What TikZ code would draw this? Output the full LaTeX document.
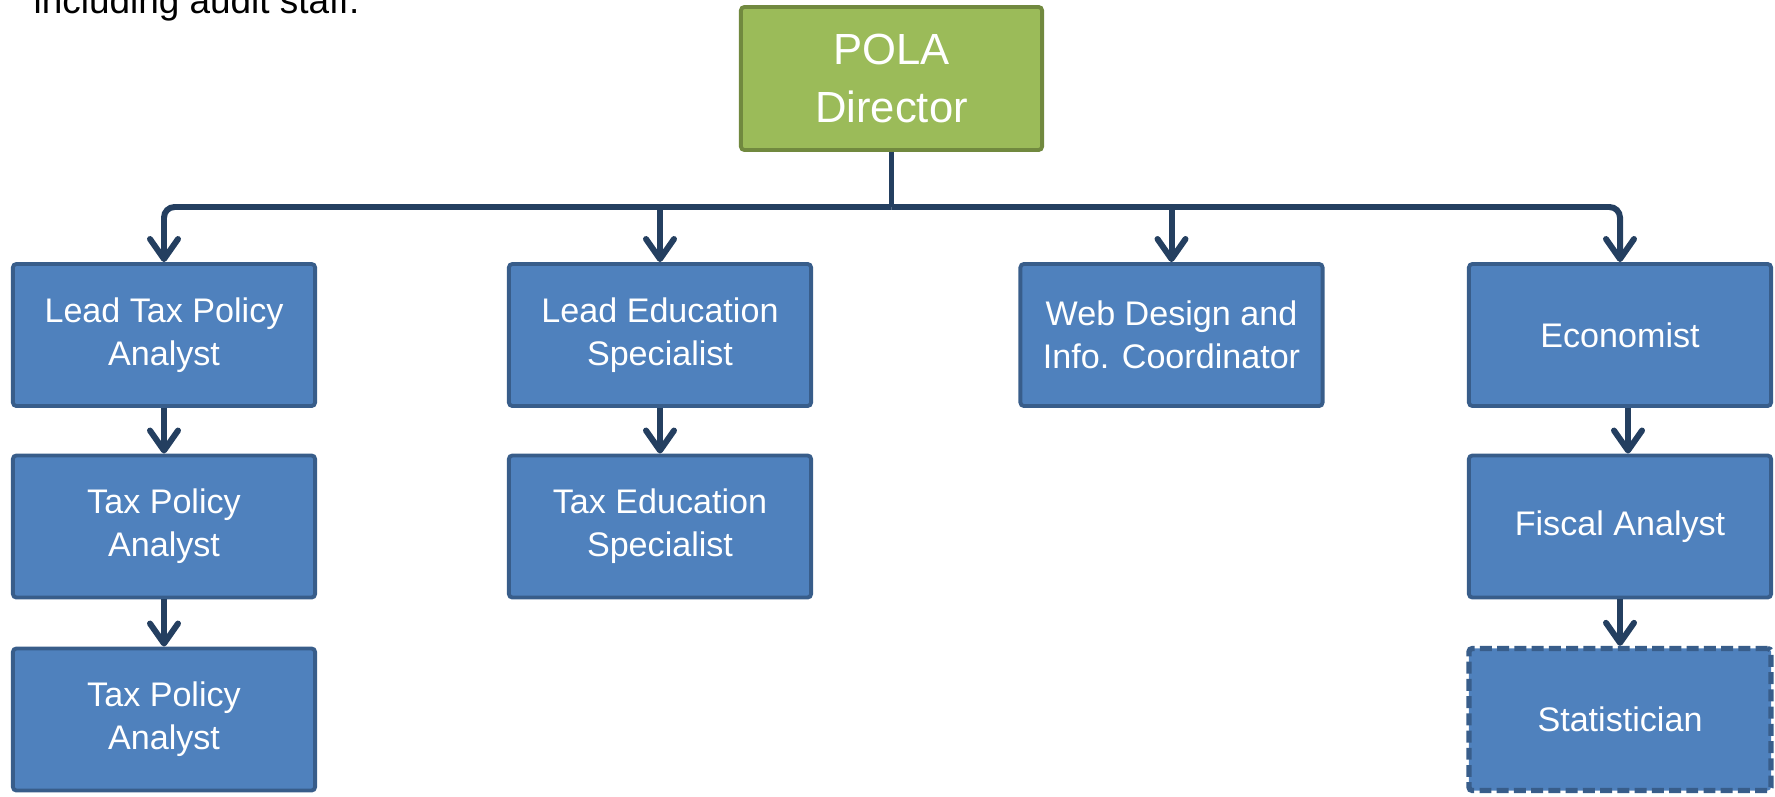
\documentclass[tikz,border=0pt]{standalone}
\usepackage{fontspec}
\setmainfont{Liberation Sans}
\usetikzlibrary{arrows.meta}
\definecolor{boxfill}{HTML}{4F81BD}
\definecolor{boxline}{HTML}{385D8A}
\definecolor{dirfill}{HTML}{9BBB59}
\definecolor{dirline}{HTML}{71893F}
\definecolor{linkcol}{HTML}{243F60}
\tikzset{
	post/.style={draw=boxline, fill=boxfill, line width=1.1pt, rounded corners=1pt,
		minimum width=3.02cm, minimum height=1.42cm, inner sep=0pt, align=center,
		text=white, font=\fontsize{9.7}{12.2}\selectfont},
	vacant/.style={post, line width=1.5pt, dash pattern=on 3.4pt off 1.5pt},
	director/.style={post, draw=dirline, fill=dirfill, minimum width=3.01cm, minimum height=1.43cm,
		font=\fontsize{12.4}{16.7}\selectfont},
	link/.style={draw=linkcol, line width=1.7pt, rounded corners=3pt,
		-{Straight Barb[length=2mm,width=2.8mm,round]}},
	stem/.style={draw=linkcol, line width=1.7pt}
}
\begin{document}
\begin{tikzpicture}[x=0.01cm,y=-0.01cm]
	\useasboundingbox (0,0) rectangle (1775,797);
	\node[anchor=base west, inner sep=0pt, font=\fontsize{10.5}{13}\selectfont] (intro) at (33,13) {including audit staff.};
	\node[director] (dir) at (891.5,78.5) {POLA\\Director};
	\node[post] (leadtax) at (164,335) {Lead Tax Policy\\Analyst};
	\node[post] (leadedu) at (660,335) {Lead Education\\Specialist};
	\node[post] (web) at (1171.5,335) {Web Design and\\Info. Coordinator};
	\node[post] (econ) at (1620,335) {Economist};
	\node[post] (taxa) at (164,526.5) {Tax Policy\\Analyst};
	\node[post] (taxedu) at (660,526.5) {Tax Education\\Specialist};
	\node[post] (fiscal) at (1620,526.5) {Fiscal Analyst};
	\node[post] (taxb) at (164,719.5) {Tax Policy\\Analyst};
	\node[vacant] (stat) at (1620,719.5) {Statistician};
	\coordinate (hub) at (891.5,207);
	\draw[stem] (dir.south) -- (hub);
	\draw[link] (hub) -| (leadtax.north);
	\draw[link] (hub) -| (econ.north);
	\draw[link] (leadedu.north |- hub) -- (leadedu.north);
	\draw[link] (web.north |- hub) -- (web.north);
	\draw[link] (leadtax) -- (taxa);
	\draw[link] (taxa) -- (taxb);
	\draw[link] (leadedu) -- (taxedu);
	\draw[link] ([xshift=0.08cm]econ.south) -- ([xshift=0.08cm]fiscal.north);
	\draw[link] (fiscal) -- (stat);
\end{tikzpicture}
\end{document}
